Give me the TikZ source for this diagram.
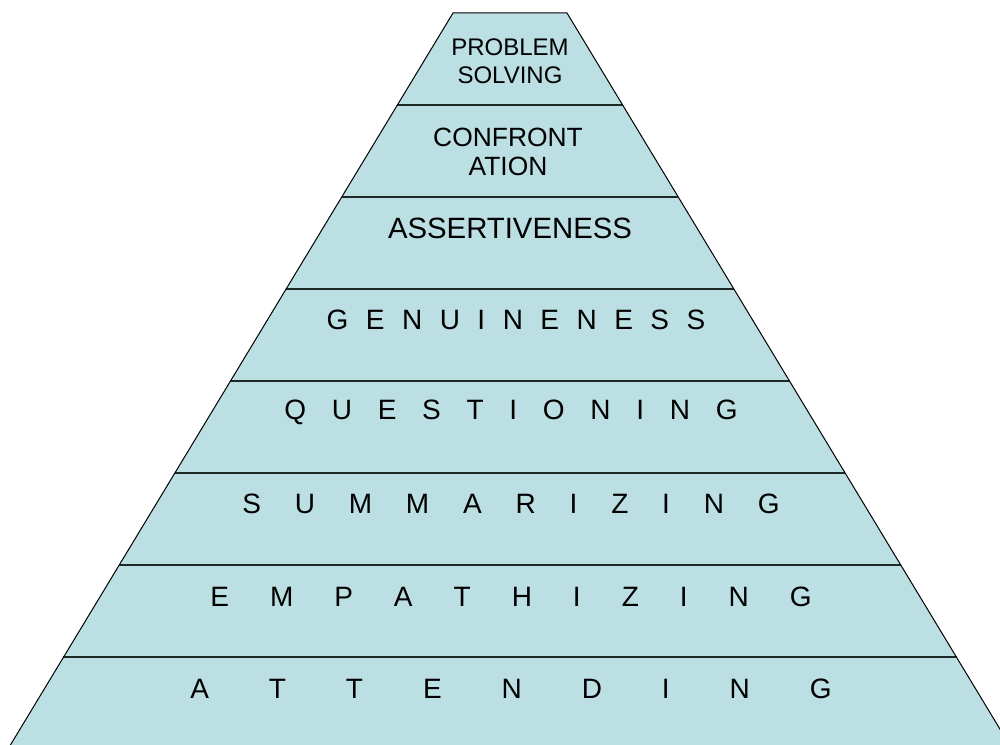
\documentclass[tikz,border=0pt]{standalone}
\usepackage{fontspec}
\setmainfont{Liberation Sans}
\definecolor{bandfill}{RGB}{187,223,226}
\definecolor{bandline}{RGB}{30,40,40}
\newcommand{\spreadword}[2]{\makebox[#1][s]{#2}}

\begin{document}
\begin{tikzpicture}[x=0.75pt, y=-0.75pt,
    every node/.style={font=\fontsize{21}{25}\selectfont, inner sep=0pt},
    level/.style={anchor=base}]
  \useasboundingbox (0,0) rectangle (1000,745);
  \clip (0,0) rectangle (1000,745);
  % pyramid body
  \fill[bandfill] (453,13) -- (567,13) -- (1012,749) -- (8,749) -- cycle;
  % lines between the levels
  \foreach \y in {105,197,...,657}
    \draw[line width=1.5pt, bandline] ({453-0.605*(\y-13)},\y) -- ({567+0.605*(\y-13)},\y);
  % outline of the pyramid
  \draw[line width=0.75pt] (8,749) -- (453,13) -- (567,13) -- (1012,749);
  % level texts, top to bottom
  \node[font=\fontsize{18}{21}\selectfont, align=center] (problem) at (510,61) {PROBLEM\\SOLVING};
  \node[font=\fontsize{19.8}{21.75}\selectfont, align=center] (confront) at (508,152) {CONFRONT\\ATION};
  \node[level, font=\fontsize{22}{26}\selectfont] (assert) at (510,239) {ASSERTIVENESS};
  \node[level] (genuine) at (516,330) {\spreadword{284pt}{G E N U I N E N E S S}};
  \node[level] (question) at (511,420) {\spreadword{340pt}{Q U E S T I O N I N G}};
  \node[level] (summary) at (511,513) {\spreadword{403pt}{S U M M A R I Z I N G}};
  \node[level] (empathy) at (511,606) {\spreadword{451pt}{E M P A T H I Z I N G}};
  \node[level] (attend) at (511,698) {\spreadword{481pt}{A T T E N D I N G}};
\end{tikzpicture}
\end{document}
